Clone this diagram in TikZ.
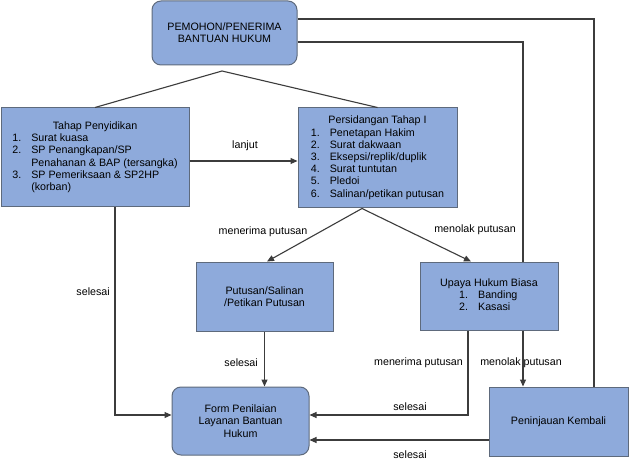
\documentclass[tikz,border=0pt]{standalone}
\usepackage{fontspec}
\setmainfont{Liberation Sans}
\usetikzlibrary{arrows.meta}
\definecolor{boxfill}{HTML}{8EAADB}
\definecolor{boxline}{HTML}{5E6A7C}
\definecolor{connc}{HTML}{3C3C3C}
\begin{document}
\begin{tikzpicture}[x=1pt,y=-1pt,
  txt/.style={font=\fontsize{10.7}{12.2}\selectfont},
  box/.style={txt, draw=boxline, fill=boxfill, line width=1pt, inner sep=0pt, align=center},
  rbox/.style={box, rounded corners=9pt},
  conn/.style={draw=connc, line width=1.1pt},
  arr/.style={conn, -{Triangle[length=7pt,width=6pt]}},
  lbl/.style={txt, inner sep=0pt}]
\useasboundingbox[fill=white] (0,0) rectangle (631,470);

% boxes
\node[rbox, minimum width=145pt, minimum height=64pt] (pemohon) at (224.5,33) {PEMOHON/PENERIMA\\BANTUAN HUKUM};
\node[box, minimum width=188pt, minimum height=99pt] (tahap) at (95,157.5) {%
  \begin{tabular}{@{}l@{\hspace{10pt}}l@{}}
  \multicolumn{2}{c}{Tahap Penyidikan}\\
  1. & Surat kuasa\\
  2. & SP Penangkapan/SP\\
     & Penahanan \& BAP (tersangka)\\
  3. & SP Pemeriksaan \& SP2HP\\
     & (korban)
  \end{tabular}};
\node[box, minimum width=159pt, minimum height=100pt] (sidang) at (377.5,158) {%
  \begin{tabular}{@{}l@{\hspace{10pt}}l@{}}
  \multicolumn{2}{c}{Persidangan Tahap I}\\
  1. & Penetapan Hakim\\
  2. & Surat dakwaan\\
  3. & Eksepsi/replik/duplik\\
  4. & Surat tuntutan\\
  5. & Pledoi\\
  6. & Salinan/petikan putusan
  \end{tabular}};
\node[box, minimum width=137pt, minimum height=69pt] (putusan) at (264.5,296.5) {Putusan/Salinan\\/Petikan Putusan};
\node[box, minimum width=138pt, minimum height=68pt] (upaya) at (489,296) {%
  \begin{tabular}{@{}l@{}}
  Upaya Hukum Biasa\\
  \hspace{19pt}1.\hspace{10pt}Banding\\
  \hspace{19pt}2.\hspace{10pt}Kasasi
  \end{tabular}};
\node[rbox, minimum width=137pt, minimum height=68pt] (form) at (240.5,421) {Form Penilaian\\Layanan Bantuan\\Hukum};
\node[box, minimum width=139pt, minimum height=69pt] (peninjauan) at (558.5,421.5) {Peninjauan Kembali};

% helper coordinates
\coordinate (r1) at (594,19);
\coordinate (r2) at (523,42);
\coordinate (apex) at (222,71);
\coordinate (lj) at (0,161);
\coordinate (sb) at (362,0);
\coordinate (pt) at (267,0);
\coordinate (ut) at (471,0);
\coordinate (ts) at (115,415);
\coordinate (us) at (468,415);
\coordinate (pk) at (0,440);

% connectors
\draw[conn] (pemohon.east|-r1) -- (r1) -- (r1|-peninjauan.north);
\draw[conn] (pemohon.east|-r2) -- (r2) -- (r2|-upaya.north);
\draw[arr] (r2|-upaya.south) -- (r2|-peninjauan.north);
\draw[conn] (tahap.north) -- (apex) -- (sidang.north);
\draw[arr] (tahap.east|-lj) -- (sidang.west|-lj);
\draw[arr] (sb|-sidang.south) -- (pt|-putusan.north);
\draw[arr] (sb|-sidang.south) -- (ut|-upaya.north);
\draw[arr] (ts|-tahap.south) -- (ts) -- (form.west|-ts);
\draw[arr] (putusan.south) -- (putusan.south|-form.north);
\draw[arr] (us|-upaya.south) -- (us) -- (form.east|-us);
\draw[arr] (peninjauan.west|-pk) -- (form.east|-pk);

% labels
\node[lbl] (l1) at (245,146) {lanjut};
\node[lbl] (l2) at (263,232) {menerima putusan};
\node[lbl] (l3) at (475,230) {menolak putusan};
\node[lbl, anchor=east] (l4) at (110,292) {selesai};
\node[lbl, anchor=east] (l5) at (258,363) {selesai};
\node[lbl, anchor=east] (l6) at (463,363) {menerima putusan};
\node[lbl] (l7) at (521,363) {menolak putusan};
\node[lbl] (l8) at (410,407) {selesai};
\node[lbl] (l9) at (410,455) {selesai};
\end{tikzpicture}
\end{document}
